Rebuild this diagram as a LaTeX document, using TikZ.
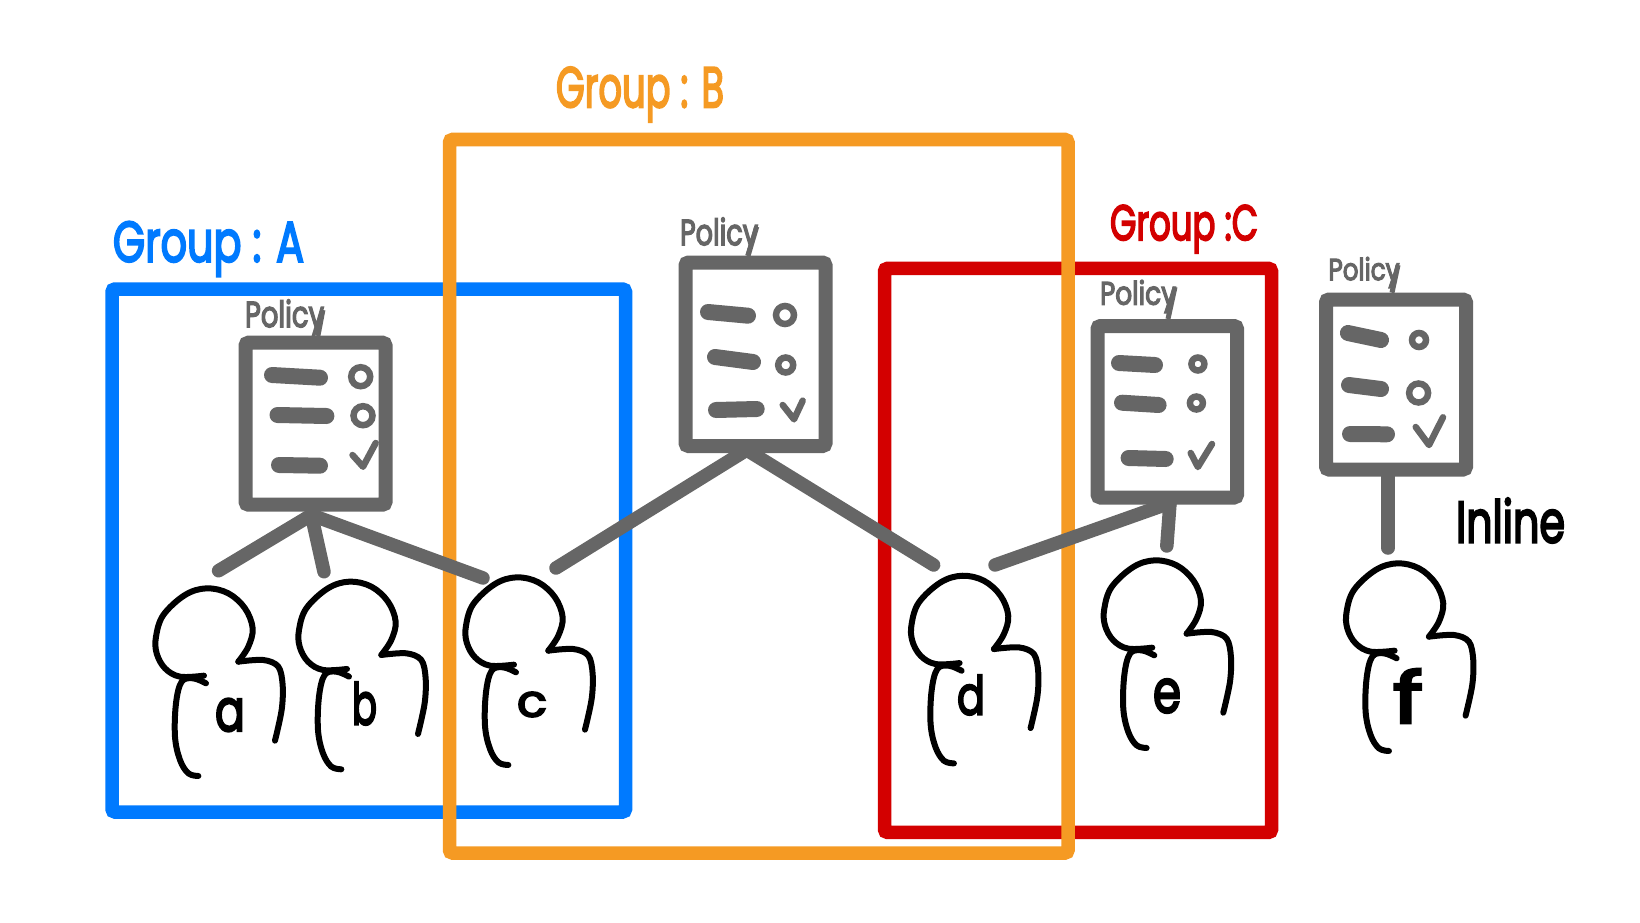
\documentclass[tikz,border=0pt]{standalone}
\usepackage{fontspec}
\setmainfont{Poppins}
\newfontfamily\hfont[FakeBold=4]{Poppins}
\definecolor{cblue}{HTML}{007AFF}
\definecolor{corange}{HTML}{F59A23}
\definecolor{cred}{HTML}{D30000}
\definecolor{cgray}{HTML}{666666}
\newcommand{\hand}[3]{\resizebox*{#1pt}{#2pt}{\hfont #3}}
\newcommand{\personfig}[2]{%
  \begin{scope}[shift={(#1,#2)},x=.3333pt,y=-.3333pt,pen]
    \draw plot[smooth,tension=.6] coordinates {(222,347) (150,350) (105,325) (80,280) (78,230) (100,165) (165,105) (230,85) (295,100) (345,145) (368,205) (355,260) (325,305)};
    \draw plot[smooth,tension=.55] coordinates {(325,305) (400,300) (445,320) (458,375) (455,450) (435,542)};
    \draw plot[smooth,tension=.6] coordinates {(228,370) (190,355) (155,365) (138,430) (135,530) (150,600) (175,640) (205,648)};
  \end{scope}}
\tikzset{
  pen/.style={line width=6pt,line cap=round,line join=round,draw=black},
  frame/.style={draw=#1,line width=13.5pt,rounded corners=3pt,inner sep=0pt,outer sep=0pt},
  polbox/.style={draw=cgray,line width=14pt,rounded corners=3pt,inner sep=0pt,outer sep=0pt,minimum width=140pt},
  link/.style={draw=cgray,line width=13.5pt,line cap=round},
  tick/.style={draw=cgray,line width=5pt},
  bar/.style={draw=cgray,line width=16pt,line cap=round},
  chk/.style={draw=cgray,line width=6.5pt,line cap=round,line join=round},
  ring/.style={draw=cgray,line width=6.5pt},
  lab/.style={inner sep=0pt,outer sep=0pt,anchor=center},
}
\begin{document}
\begin{tikzpicture}[x=1pt,y=-1pt]
\useasboundingbox (0,0) rectangle (1640,923);
% group frames
\node[frame=cblue,minimum width=513.5pt,minimum height=523pt] (frameA) at (368.75,550.5) {};
\node[frame=cred,minimum width=387pt,minimum height=564pt] (frameC) at (1078,550.4) {};
\node[frame=corange,minimum width=618.5pt,minimum height=713.5pt] (frameB) at (758.75,496.25) {};
% group labels
\node[lab,text=cblue] (labA) at (208.5,249) {\hand{191}{55}{Group : A}};
\node[lab,text=corange] (labB) at (640,94.5) {\hand{168}{55}{Group : B}};
\node[lab,text=cred] (labC) at (1184,229) {\hand{148}{48}{Group :C}};
% policy boxes
\node[polbox,minimum height=162pt] (boxA) at (315.5,423.7) {};
\node[polbox,minimum height=183.5pt] (boxB) at (755.5,354.25) {};
\node[polbox,minimum width=139.5pt,minimum height=171.5pt] (boxC) at (1167.25,411.75) {};
\node[polbox,minimum height=170pt] (boxD) at (1396,384.5) {};
% policy labels
\node[lab,text=cgray] (polA) at (284.5,318) {\hand{79}{37}{Policy}};
\node[lab,text=cgray] (polB) at (719,236) {\hand{78}{37}{Policy}};
\node[lab,text=cgray] (polC) at (1138,296.5) {\hand{76}{33}{Policy}};
\node[lab,text=cgray] (polD) at (1364,272.5) {\hand{71}{31}{Policy}};
\coordinate (tA) at (322.9,310);
\coordinate (tB) at (756.7,226.7);
\coordinate (tC) at (1175,287);
\coordinate (tD) at (1398,265);
\draw[tick] (tA) -- (317.9,336);
\draw[tick] (tB) -- (748,256);
\draw[tick] (tC) -- (1168,319);
\draw[tick] (tD) -- (1392,292.7);
% rows
\draw[bar] (272,375) -- (320,377.7);
\draw[bar] (277.5,415) -- (326.4,416);
\draw[bar] (279,465) -- (320,465.7);
\draw[ring] (360.7,376.7) circle (9.5);
\draw[ring] (363,415.7) circle (9.5);
\draw[chk] (352.5,455) -- (363,466.7) -- (375.7,443);
\draw[bar] (708,312) -- (748,315.7);
\draw[bar] (715,357) -- (753,362);
\draw[bar] (716,410) -- (756.7,409);
\draw[ring] (785,315) circle (9);
\draw[ring] (785.7,365) circle (7.5);
\draw[chk] (782.7,405) -- (794,419.3) -- (802.7,400.7);
\draw[bar] (1119,363) -- (1155,365);
\draw[bar] (1122,402.7) -- (1158.6,405);
\draw[bar] (1128.6,458) -- (1165.7,459);
\draw[ring] (1197.9,364) circle (6.5);
\draw[ring] (1196.4,403) circle (6.5);
\draw[chk] (1190.7,453) -- (1197.9,467) -- (1212,444);
\draw[bar] (1347.9,333) -- (1381,340);
\draw[bar] (1349,385) -- (1381,389);
\draw[bar] (1350,434) -- (1387,434.3);
\draw[ring] (1419,340) circle (7);
\draw[ring] (1418.6,393) circle (9.5);
\draw[chk] (1415.7,427) -- (1429,445) -- (1443,417.3);
% connectors
\coordinate (apexA) at (311.4,515);
\coordinate (apexB) at (746.7,450);
\coordinate (apexC) at (1170,503);
\coordinate (apexD) at (1388,475);
\coordinate (ea) at (218.6,570.7);
\coordinate (eb) at (324,571.7);
\coordinate (ec) at (483,578);
\coordinate (ec2) at (556,568);
\coordinate (ed) at (933.6,565);
\coordinate (ed2) at (995,565);
\coordinate (ee) at (1166.8,546);
\coordinate (ef) at (1388,548);
\draw[link] (apexA) -- (ea);
\draw[link] (apexA) -- (eb);
\draw[link] (apexA) -- (ec);
\draw[link] (apexB) -- (ec2);
\draw[link] (apexB) -- (ed);
\draw[link] (apexC) -- (ed2);
\draw[link] (apexC) -- (ee);
\draw[link] (apexD) -- (ef);
% people
\personfig{130}{560}
\personfig{273}{553.3}
\personfig{440}{549}
\personfig{885.6}{547.4}
\personfig{1078.3}{532}
\personfig{1320.6}{535}
\node[lab] (la) at (230,715) {\hand{30}{33}{a}};
\node[lab] (lb) at (364.5,703.5) {\hand{25}{43}{b}};
\node[lab] (lc) at (532,704.5) {\hand{30}{25}{c}};
\node[lab] (ld) at (971,695) {\hand{28}{40}{d}};
\node[lab] (le) at (1167,696) {\hand{28}{34}{e}};
\node[lab] (lf) at (1408,696) {\hand{30}{54}{f}};
\node[lab] (inl) at (1510.5,520.5) {\hand{109}{45}{Inline}};
\end{tikzpicture}
\end{document}
